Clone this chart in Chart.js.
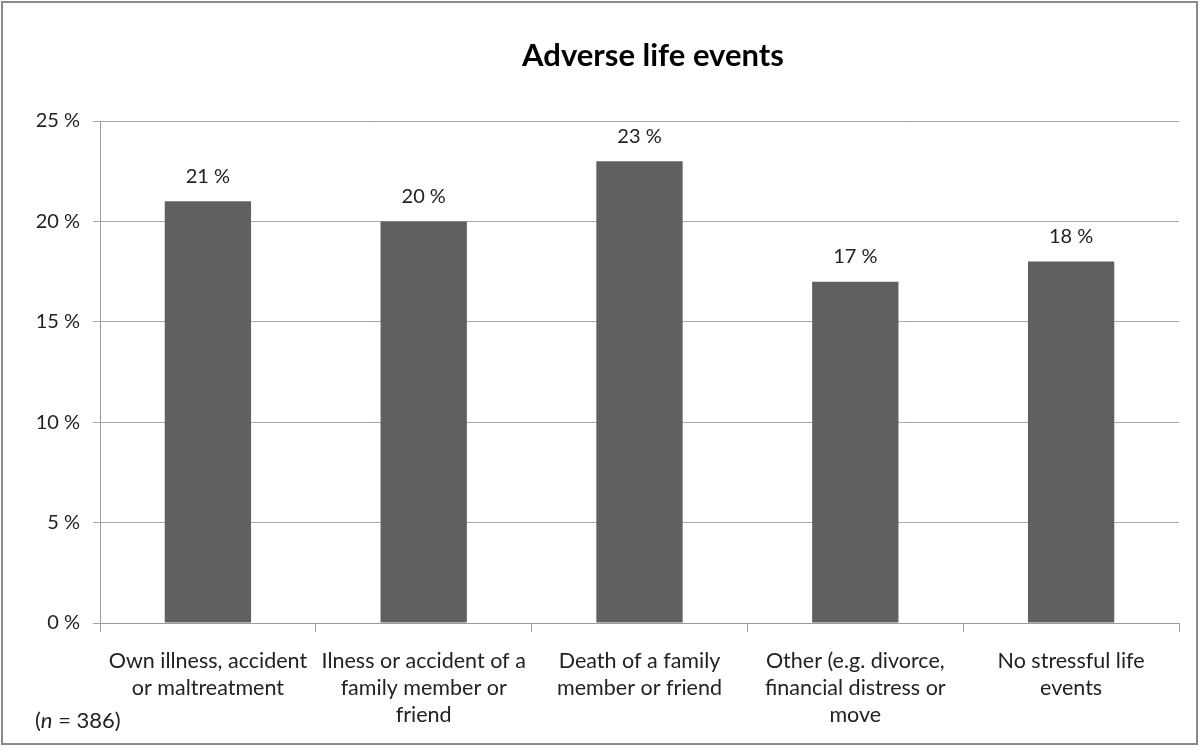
<!DOCTYPE html>
<html>
<head>
<meta charset="utf-8">
<script src="https://cdn.jsdelivr.net/npm/chart.js@4.4.1/dist/chart.umd.min.js"></script>
<style>
  html, body { margin: 0; padding: 0; background: #fff; }
  #wrap { width: 1200px; height: 747px; }
</style>
</head>
<body>
<div id="wrap"><canvas id="plot-area" width="1200" height="747"></canvas></div>
<script>
const categories = [
  ["Own illness, accident", "or maltreatment"],
  ["Ilness or accident of a", "family member or", "friend"],
  ["Death of a family", "member or friend"],
  ["Other (e.g. divorce,", "financial distress or", "move"],
  ["No stressful life", "events"],
];
const shares = [21, 20, 23, 17, 18];
const chartTitle = "Adverse life events";
const sampleNote = "386";

const FONT = "Lato, 'Open Sans', sans-serif";

// value labels above bars, title, n note and outer frame
const extras = {
  id: "extras",
  afterDatasetsDraw(chart) {
    const ctx = chart.ctx;
    const meta = chart.getDatasetMeta(0);
    ctx.save();
    ctx.fillStyle = "#222";
    ctx.font = "20px " + FONT;
    ctx.textAlign = "center";
    ctx.textBaseline = "middle";
    meta.data.forEach((bar, i) => {
      ctx.fillText(shares[i] + " %", bar.x, bar.y - 25);
    });
    ctx.restore();
  },
  afterDraw(chart) {
    const ctx = chart.ctx;
    ctx.save();
    ctx.fillStyle = "#000";
    ctx.font = "bold 31px " + FONT;
    ctx.textAlign = "center";
    ctx.textBaseline = "middle";
    ctx.fillText(chartTitle, 653, 56);

    ctx.font = "22px " + FONT;
    ctx.textAlign = "left";
    ctx.fillStyle = "#222";
    let x = 35;
    ctx.fillText("(", x, 721);
    x += ctx.measureText("(").width;
    ctx.font = "italic 22px " + FONT;
    ctx.fillText("n", x, 721);
    x += ctx.measureText("n").width;
    ctx.font = "22px " + FONT;
    ctx.fillText(" = " + sampleNote + ")", x, 721);

    ctx.strokeStyle = "#8a8a8a";
    ctx.lineWidth = 2;
    ctx.strokeRect(2, 2, 1195, 742);
    ctx.restore();
  },
};

new Chart(document.getElementById("plot-area").getContext("2d"), {
  type: "bar",
  data: {
    labels: categories,
    datasets: [{
      data: shares,
      backgroundColor: "#606060",
      borderWidth: 0,
      barPercentage: 0.8,
      categoryPercentage: 0.5,
    }],
  },
  options: {
    responsive: false,
    animation: false,
    layout: { padding: { top: 121, right: 21, bottom: 0, left: 0 } },
    plugins: {
      legend: { display: false },
      title: { display: false },
      tooltip: { enabled: false },
    },
    scales: {
      x: {
        grid: {
          offset: true,
          drawOnChartArea: false,
          drawTicks: true,
          tickLength: 9,
          color: "#9a9a9a",
        },
        border: { color: "#9a9a9a" },
        ticks: {
          color: "#222",
          font: { family: FONT, size: 21.5, lineHeight: 1.24 },
          padding: 16,
          maxRotation: 0,
          autoSkip: false,
        },
        afterFit(scale) { scale.height = 124; },
      },
      y: {
        min: 0,
        max: 25,
        ticks: {
          stepSize: 5,
          color: "#222",
          font: { family: FONT, size: 20 },
          padding: 13,
          callback: (v) => v + " %",
        },
        grid: { color: "#a8a8a8", tickLength: 7 },
        border: { color: "#9a9a9a" },
        afterFit(scale) { scale.width = 100; },
      },
    },
  },
  plugins: [extras],
});
</script>
</body>
</html>
